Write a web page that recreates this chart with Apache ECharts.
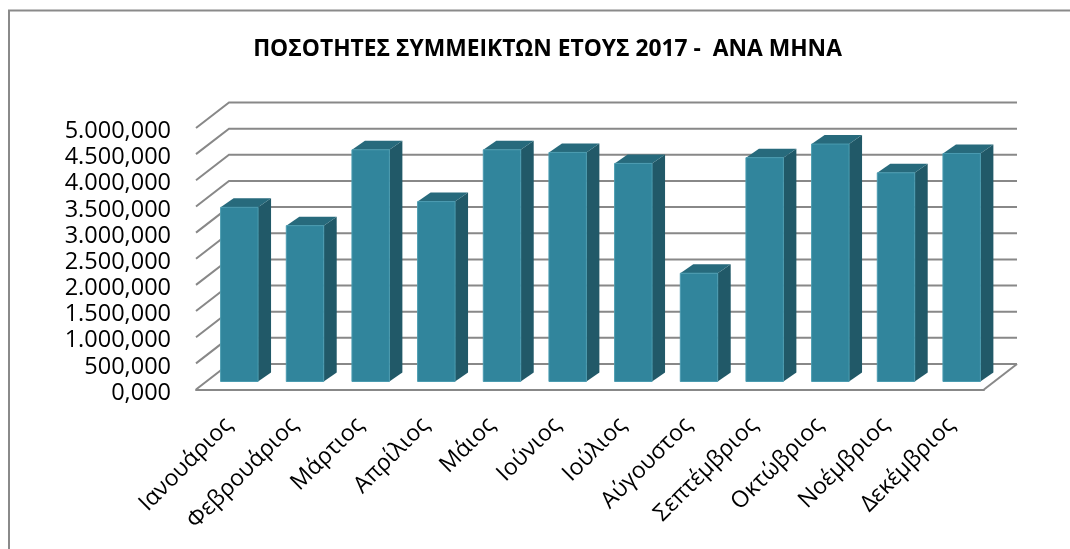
<!DOCTYPE html>
<html><head><meta charset="utf-8">
<style>html,body{margin:0;padding:0;background:#fff}#c{width:1070px;height:549px}</style>
<script src="https://cdn.jsdelivr.net/npm/echarts@6/dist/echarts.min.js"></script>
</head><body><div id="c"></div>
<script>
const titleText = 'ΠΟΣΟΤΗΤΕΣ ΣΥΜΜΕΙΚΤΩΝ ΕΤΟΥΣ 2017 -  ΑΝΑ ΜΗΝΑ';
const months = ['Ιανουάριος','Φεβρουάριος','Μάρτιος','Απρίλιος','Μάιος','Ιούνιος','Ιούλιος','Αύγουστος','Σεπτέμβριος','Οκτώβριος','Νοέμβριος','Δεκέμβριος'];
const quantities = [3330000,2980000,4430000,3440000,4430000,4380000,4170000,2070000,4280000,4540000,3990000,4360000];
const yTicks = [0,500000,1000000,1500000,2000000,2500000,3000000,3500000,4000000,4500000,5000000];
const yTickLabels = ['0,000','500,000','1.000,000','1.500,000','2.000,000','2.500,000','3.000,000','3.500,000','4.000,000','4.500,000','5.000,000'];

const wallDX = 33, wallDY = 25.5;
const barOffX = 10.5, barOffY = 8, barDX = 13, barDY = 9;
const gridColor = '#888888';
const font = '"Open Sans", "Noto Sans", sans-serif';

const chart = echarts.init(document.getElementById('c'), null, {renderer:'canvas'});
chart.setOption({
  animation:false,
  backgroundColor:'#fff',
  title:{text:titleText,left:542.5,top:33,textAlign:'center',
    textStyle:{fontFamily:font,fontSize:22.8,fontWeight:'bold',color:'#000'}},
  graphic:[{type:'polyline',silent:true,z:-1,
    shape:{points:[[9,560],[9,10.5],[1080,10.5]]},
    style:{fill:null,stroke:'#8a8a8a',lineWidth:2}}],
  grid:{left:196,width:788,top:128,height:261.5,containLabel:false},
  xAxis:{type:'category',data:months,boundaryGap:true,
    axisLine:{show:true,lineStyle:{color:gridColor,width:2}},
    axisTick:{show:false},splitLine:{show:false},
    axisLabel:{rotate:45,interval:0,margin:32,fontFamily:font,fontSize:23,color:'#000'}},
  yAxis:{type:'value',min:0,max:5000000,interval:500000,
    axisLine:{show:false},axisTick:{show:false},splitLine:{show:false},
    axisLabel:{margin:25,color:'#000',
      formatter:v=>'{a|'+yTickLabels[yTicks.indexOf(v)]+'}',
      rich:{a:{fontFamily:font,fontSize:23.5,color:'#000',padding:[7,0,0,0]}}}},
  series:[
    {type:'custom',z:1,silent:true,clip:false,data:yTicks.map((t,i)=>[i,t]),encode:{x:0,y:1},
     renderItem(params,api){
       const r=params.coordSys, t=api.value(1), y=api.coord([0,t])[1];
       const left=r.x, right=r.x+r.width;
       const pts=[[left,y],[left+wallDX,y-wallDY],[right+wallDX,y-wallDY]];
       const children=[{type:'polyline',shape:{points:pts},style:{fill:null,stroke:gridColor,lineWidth:2}}];
       if(t===0) children.push({type:'line',shape:{x1:right,y1:y,x2:right+wallDX,y2:y-wallDY},style:{stroke:gridColor,lineWidth:2}});
       return {type:'group',children};
     }},
    {type:'custom',z:2,silent:true,clip:false,data:quantities.map((v,i)=>[i,v]),encode:{x:0,y:1},
     renderItem(params,api){
       const i=api.value(0), v=api.value(1);
       const top=api.coord([i,v]), base=api.coord([i,0]), w=api.size([1,0])[0]*0.57;
       const x0=top[0]+barOffX-w/2, x1=x0+w, yT=top[1]-barOffY, yB=base[1]-barOffY;
       return {type:'group',children:[
         {type:'polygon',shape:{points:[[x1,yT],[x1+barDX,yT-barDY],[x1+barDX,yB-barDY],[x1,yB]]},style:{fill:'#215968'}},
         {type:'polygon',shape:{points:[[x0,yT],[x0+barDX,yT-barDY],[x1+barDX,yT-barDY],[x1,yT]]},style:{fill:'#276a7c'}},
         {type:'rect',shape:{x:x0,y:yT,width:w,height:yB-yT},style:{fill:'#31859c',stroke:'#4a9bb0',lineWidth:1}}
       ]};
     }}
  ]
});
</script></body></html>
